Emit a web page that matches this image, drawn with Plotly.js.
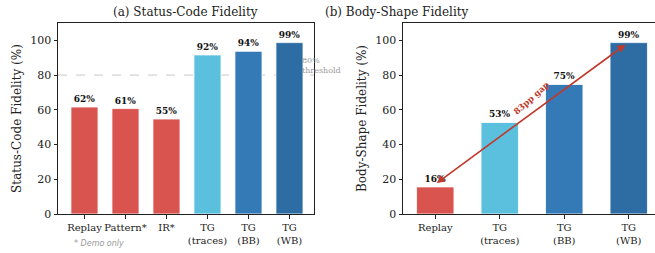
<!DOCTYPE html>
<html><head><meta charset="utf-8">
<script src="https://cdn.plot.ly/plotly-3.0.1.min.js"></script>
<style>html,body{margin:0;padding:0;background:#fff}</style>
</head><body><div id="chart" style="width:655px;height:253px"></div>
<script>
// Panel (a) data
const catsA = ["Replay", "Pattern*", "IR*", "TG<br>(traces)", "TG<br>(BB)", "TG<br>(WB)"];
const valsA = [61.6, 60.7, 54.7, 91.6, 93.7, 98.7];
const colorsA = ["#d9534f", "#d9534f", "#d9534f", "#5bc0de", "#337ab7", "#2e6da4"];
// Panel (b) data
const catsB = ["Replay", "TG<br>(traces)", "TG<br>(BB)", "TG<br>(WB)"];
const valsB = [15.6, 52.7, 74.6, 98.7];
const colorsB = ["#d9534f", "#5bc0de", "#337ab7", "#2e6da4"];
const threshold = 80;
const gapLabel = "83pp gap";
const yTicks = [0, 20, 40, 60, 80, 100];

const serif = "DejaVu Serif, serif";
const labelFont = {family: serif, size: 9, color: "#111", weight: 700};

const idxA = catsA.map((_, i) => i);
const idxB = catsB.map((_, i) => i);

const traces = [
  {type: "bar", x: idxA, y: valsA, width: 0.66, xaxis: "x", yaxis: "y",
   marker: {color: colorsA, line: {color: "#ffffff", width: 0.8}},
   text: valsA.map(v => Math.round(v) + "%"), textposition: "outside",
   textfont: labelFont, cliponaxis: false, hoverinfo: "none"},
  {type: "bar", x: idxB, y: valsB, width: 0.58, xaxis: "x2", yaxis: "y2",
   marker: {color: colorsB, line: {color: "#ffffff", width: 0.8}},
   text: valsB.map(v => Math.round(v) + "%"), textposition: "outside",
   textfont: labelFont, cliponaxis: false, hoverinfo: "none"}
];

const axisCommon = {
  showline: true, linecolor: "#222", linewidth: 1, showgrid: false, zeroline: false,
  ticks: "outside", ticklen: 3.5, tickwidth: 1, tickcolor: "#222",
  tickfont: {family: serif, size: 11, color: "#222"}
};

const layout = {
  width: 655, height: 253,
  margin: {l: 58, r: 0, t: 23, b: 39},
  paper_bgcolor: "#fff", plot_bgcolor: "#fff",
  showlegend: false, bargap: 0,
  font: {family: serif, color: "#222"},
  xaxis: Object.assign({}, axisCommon, {
    domain: [0, 0.4288], range: [-0.646, 5.598], mirror: true,
    tickmode: "array", tickvals: idxA, ticktext: catsA,
    tickfont: {family: serif, size: 10, color: "#222"}
  }),
  yaxis: Object.assign({}, axisCommon, {
    range: [0, 110], mirror: true, tickvals: yTicks,
    title: {text: "Status-Code Fidelity (%)", font: {family: serif, size: 12, color: "#222"}, standoff: 6}
  }),
  xaxis2: Object.assign({}, axisCommon, {
    domain: [0.5779, 1], range: [-0.5, 3.407], mirror: true, anchor: "y2",
    tickmode: "array", tickvals: idxB, ticktext: catsB,
    tickfont: {family: serif, size: 10, color: "#222"}
  }),
  yaxis2: Object.assign({}, axisCommon, {
    range: [0, 110], anchor: "x2", tickvals: yTicks,
    title: {text: "Body-Shape Fidelity (%)", font: {family: serif, size: 12, color: "#222"}, standoff: 6}
  }),
  shapes: [
    {type: "line", xref: "x domain", yref: "y", x0: 0, x1: 1, y0: threshold, y1: threshold,
     line: {color: "#c8c8c8", width: 1, dash: "dash"}, layer: "below"}
  ],
  annotations: [
    {text: "(a) Status-Code Fidelity", xref: "x domain", yref: "paper", x: 0.5, y: 1, yanchor: "bottom",
     yshift: 2, showarrow: false, font: {family: serif, size: 12, color: "#222"}},
    {text: "(b) Body-Shape Fidelity", xref: "paper", yref: "paper", x: 0.6918, y: 1, yanchor: "bottom",
     yshift: 2, showarrow: false, font: {family: serif, size: 12, color: "#222"}},
    {text: "80%<br>threshold", xref: "x", yref: "y", x: 5.26, y: 85.6, xanchor: "left", yanchor: "middle",
     align: "left", showarrow: false, font: {family: serif, size: 8, color: "#999"}},
    {text: "<i>* Demo only</i>", xref: "paper", yref: "paper", x: 0.0235, y: -0.152, xanchor: "left", yanchor: "middle",
     showarrow: false, font: {family: "DejaVu Sans, sans-serif", size: 8, color: "#999"}},
    {text: "", xref: "x2", yref: "y2", axref: "x2", ayref: "y2",
     x: 2.95, y: 97.6, ax: 0.0, ay: 17.2, showarrow: true,
     arrowhead: 2, startarrowhead: 2, arrowside: "end+start", arrowsize: 1, arrowwidth: 1.6,
     arrowcolor: "#c0392b"},
    {text: "<b>" + gapLabel + "</b>", xref: "x2", yref: "y2", x: 1.49, y: 67, textangle: -42,
     showarrow: false, font: {family: serif, size: 8.5, color: "#c0392b"}}
  ]
};

Plotly.newPlot("chart", traces, layout, {displayModeBar: false, staticPlot: true});
</script></body></html>
